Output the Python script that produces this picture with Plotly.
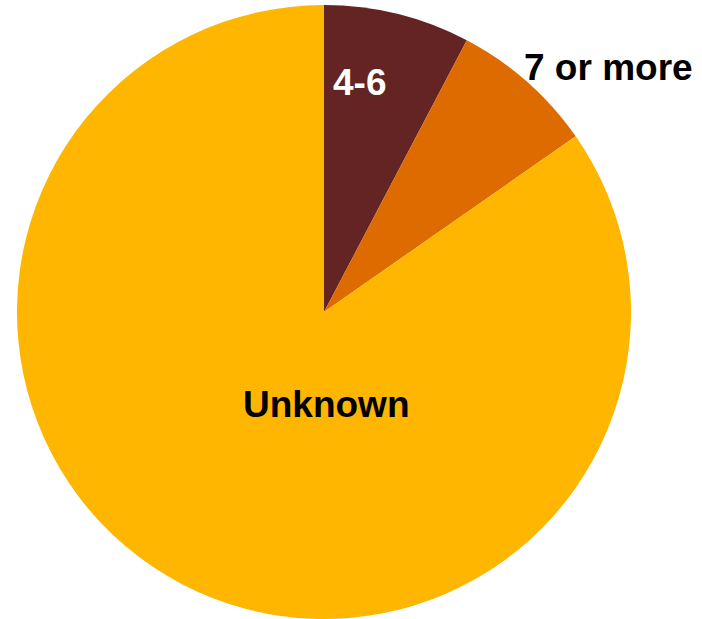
import plotly.graph_objects as go

# Data
categories = ["4-6", "7 or more", "Unknown"]
values = [7.7, 7.6, 84.7]
colors = ["#632423", "#DD6B00", "#FFB600"]
label_colors = ["white", "black", "black"]

W, H = 702, 619
cx, cy, r = 324, 312, 307

fig = go.Figure(go.Pie(
    labels=categories,
    values=values,
    sort=False,
    direction="clockwise",
    rotation=0,
    marker=dict(colors=colors, line=dict(width=0)),
    textinfo="none",
    hoverinfo="label+percent",
    domain=dict(x=[(cx - r) / W, (cx + r) / W], y=[1 - (cy + r) / H, 1 - (cy - r) / H]),
    showlegend=False,
))

# label positions (pixel centers)
label_pos = [(360, 83), (608, 67), (326, 404)]
for cat, col, (px, py) in zip(categories, label_colors, label_pos):
    fig.add_annotation(
        x=px / W, y=1 - py / H, xref="paper", yref="paper",
        text=f"<b>{cat}</b>", showarrow=False,
        xanchor="center", yanchor="middle",
        font=dict(family="Liberation Sans, Arial, sans-serif", size=37, color=col),
    )

fig.update_layout(
    width=W, height=H,
    margin=dict(l=0, r=0, t=0, b=0),
    paper_bgcolor="white",
    plot_bgcolor="white",
)

fig.write_html(
    "out.html",
    config={"displayModeBar": False},
    post_script="document.body.style.margin='0';document.body.style.overflow='hidden';",
)
